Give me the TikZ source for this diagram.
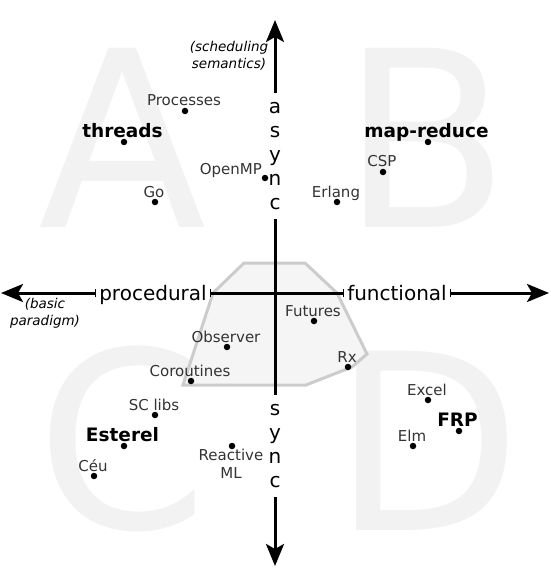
\documentclass[tikz,border=0pt]{standalone}
\usepackage{fontspec}
\setmainfont{DejaVu Sans}
\usetikzlibrary{arrows.meta,positioning,calc}

\begin{document}
\begin{tikzpicture}[x=1pt, y=-1pt,
    axis/.style={line width=3pt},
    tip/.style={-{Stealth[length=22pt, width=18pt, inset=5pt]}},
    axislbl/.style={font=\fontsize{20}{24}\selectfont, inner xsep=3pt, inner ysep=9pt, align=center},
    bigletter/.style={font=\fontsize{246}{246}\selectfont, text=black!5, inner sep=0pt, anchor=base},
    dot/.style={circle, fill=black, inner sep=0pt, minimum size=6.5pt},
    lbl/.style={font=\fontsize{15}{18}\selectfont, text=black!80, anchor=base, inner sep=0pt, align=center},
    keylbl/.style={font=\bfseries\fontsize{18.5}{22}\selectfont, anchor=base, inner sep=0pt},
    note/.style={font=\itshape\fontsize{13.5}{17}\selectfont, align=center, inner sep=0pt}]
    \useasboundingbox (0,0) rectangle (550,588);

    % quadrant letters
    \node[bigletter] (qa) at (123,227) {A};
    \node[bigletter] (qb) at (426,227) {B};
    \node[bigletter] (qc) at (122,528) {C};
    \node[bigletter] (qd) at (427,530) {D};

    % shared area
    \draw[fill=black!4, draw=black!20, line width=3pt]
        (244,263) -- (305,263) -- (337,293) -- (367,354) -- (352,367)
        -- (306,385) -- (183,385) -- (213,293) -- cycle;

    % axes
    \coordinate (o) at (275,293);
    \coordinate (north) at (275,20);
    \coordinate (south) at (275,566);
    \coordinate (west) at (1,293);
    \coordinate (east) at (549,293);
    \node[axislbl, anchor=north] (async) at (275,93) {a\\s\\y\\n\\c};
    \node[axislbl, anchor=north] (sync) at (275,395) {s\\y\\n\\c};
    \node[axislbl, anchor=base] (proc) at (153,300) {procedural};
    \node[axislbl, anchor=base] (func) at (397,300) {functional};
    \draw[axis, tip] (async) -- (north);
    \draw[axis] (async) -- (sync);
    \draw[axis, tip] (sync) -- (south);
    \draw[axis, {Bar[width=8pt, line width=1.5pt]}-{Stealth[length=22pt, width=18pt, inset=5pt]}] (proc.west |- o) -- (west);
    \draw[axis, {Bar[width=8pt, line width=1.5pt]}-{Bar[width=8pt, line width=1.5pt]}] (proc.east |- o) -- (func.west |- o);
    \draw[axis, {Bar[width=8pt, line width=1.5pt]}-{Stealth[length=22pt, width=18pt, inset=5pt]}] (func.east |- o) -- (east);

    \node[note] (sched) at (229,56) {(scheduling\\semantics)};
    \node[note] (basic) at (45,313) {(basic\\paradigm)};

    % approaches
    \foreach \x/\y/\n/\t in {185/111/processes/Processes, 155/202/go/Go,
        383/172/csp/CSP, 337/202/erlang/Erlang, 314/321/futures/Futures,
        227/347/observer/Observer, 191/381/coroutines/Coroutines, 348/367/rx/Rx,
        428/400/excel/Excel, 413/446/elm/Elm, 155/415/sclibs/SC libs, 94/476/ceu/Céu} {
        \node[lbl] (l\n) at (\x-1,\y-5) {\t};
        \node[dot] (d\n) at (\x,\y) {};
    }
    \foreach \x/\y/\n/\t in {124/142/threads/threads, 428/142/mapreduce/map-reduce,
        459/431/frp/FRP, 124/446/esterel/Esterel} {
        \node[keylbl] (l\n) at (\x-1.5,\y-4.5) {\t};
        \node[dot] (d\n) at (\x,\y) {};
    }
    \node[lbl, anchor=base east] (lopenmp) at (262,175) {OpenMP};
    \node[dot] (dopenmp) at (265,178) {};
    \node[lbl, anchor=north] (lreactive) at (231,449) {Reactive\\ML};
    \node[dot] (dreactive) at (232,446) {};
\end{tikzpicture}
\end{document}
